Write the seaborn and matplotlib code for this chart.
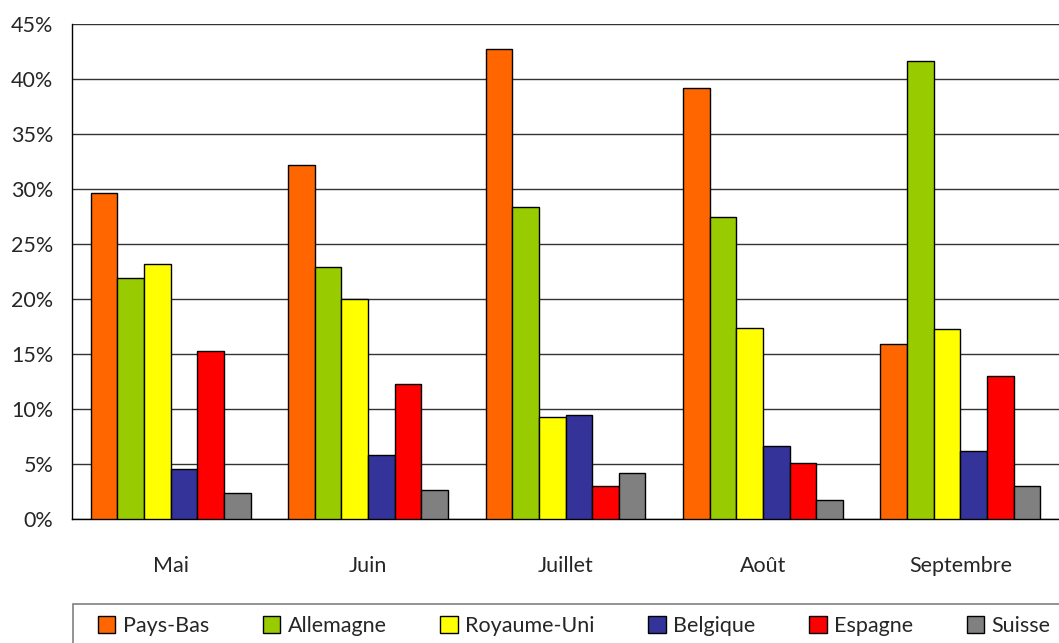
import pandas as pd
import matplotlib.pyplot as plt
import seaborn as sns
from matplotlib.ticker import FuncFormatter, FixedLocator

months = ["Mai", "Juin", "Juillet", "Août", "Septembre"]
countries = ["Pays-Bas", "Allemagne", "Royaume-Uni", "Belgique", "Espagne", "Suisse"]
colors = ["#FF6600", "#99CC00", "#FFFF00", "#333399", "#FF0000", "#808080"]

pays_bas = [29.7, 32.2, 42.8, 39.2, 15.9]
allemagne = [21.9, 22.9, 28.4, 27.5, 41.7]
royaume_uni = [23.2, 20.0, 9.3, 17.4, 17.3]
belgique = [4.5, 5.8, 9.5, 6.6, 6.2]
espagne = [15.3, 12.3, 3.0, 5.1, 13.0]
suisse = [2.4, 2.6, 4.2, 1.7, 3.0]

series = [pays_bas, allemagne, royaume_uni, belgique, espagne, suisse]
rows = []
for c, vals in zip(countries, series):
    for m, v in zip(months, vals):
        rows.append({"mois": m, "pays": c, "part": v})
df = pd.DataFrame(rows)

sns.set_style("white")
plt.rcParams['font.family'] = ['Lato', 'DejaVu Sans']
plt.rcParams['font.size'] = 15.5

fig = plt.figure(figsize=(10.59, 6.43), dpi=100)
ax = fig.add_axes([0.068, 0.193, 0.932, 0.769])

sns.barplot(data=df, x="mois", y="part", hue="pays", order=months,
            hue_order=countries, palette=colors, width=0.81,
            edgecolor="black", linewidth=1, saturation=1, ax=ax, zorder=3)

ax.set_ylim(0, 45)
ax.set_xlim(-0.5, 4.5)
ax.set_yticks(range(0, 46, 5))
ax.yaxis.set_major_formatter(FuncFormatter(lambda v, p: f"{int(v)}%"))
ax.grid(axis="y", color="#333333", linewidth=1, zorder=0)
ax.set_axisbelow(True)
ax.set_xlabel("")
ax.set_ylabel("")

for s in ["top", "right"]:
    ax.spines[s].set_visible(False)
for s in ["left", "bottom"]:
    ax.spines[s].set_color("black")
    ax.spines[s].set_linewidth(1)

ax.tick_params(axis="y", direction="out", length=6.5, width=1, color="black", pad=7)
ax.tick_params(axis="x", which="major", length=0, pad=27)
ax.xaxis.set_minor_locator(FixedLocator([-0.5, 0.5, 1.5, 2.5, 3.5]))
ax.tick_params(axis="x", which="minor", direction="out", length=6.5, width=1, color="black")

ax.legend_.remove()

# cadre de la légende (déborde à droite et en bas comme dans l'original)
frame = plt.Rectangle((73 / 1059, -0.2), 1.0, 0.2 + 1 - 604 / 643, transform=fig.transFigure,
                      facecolor="none", edgecolor="#808080", linewidth=1.2)
fig.patches.append(frame)

handles = [plt.Rectangle((0, 0), 1, 1, facecolor=c, edgecolor="black", linewidth=1) for c in colors]
fig.legend(handles, countries, loc="center left", bbox_to_anchor=(98 / 1059, 1 - 626 / 643),
           ncol=6, frameon=False, handlelength=0.8, handleheight=0.8, handletextpad=0.35,
           columnspacing=2.5, borderpad=0, borderaxespad=0)

fig.savefig("out.png", dpi=100)
